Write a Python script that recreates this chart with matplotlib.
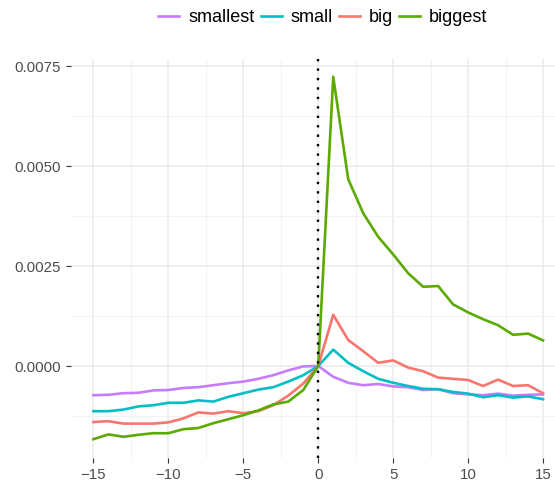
import numpy as np
import matplotlib.pyplot as plt
from matplotlib.lines import Line2D

days = np.arange(-15, 16)

smallest = [-0.00073, -0.00072, -0.00068, -0.00067, -0.00061, -0.00060, -0.00055, -0.00053,
            -0.00048, -0.00043, -0.00039, -0.00032, -0.00023, -0.00011, -0.00001, 0.0,
            -0.00027, -0.00042, -0.00048, -0.00045, -0.00051, -0.00053, -0.00060, -0.00058,
            -0.00068, -0.00071, -0.00073, -0.00069, -0.00074, -0.00072, -0.00071]
small = [-0.00113, -0.00113, -0.00109, -0.00101, -0.00098, -0.00092, -0.00092, -0.00086,
         -0.00089, -0.00077, -0.00068, -0.00059, -0.00053, -0.00039, -0.00023, 0.0,
         0.00041, 0.00008, -0.00013, -0.00032, -0.00042, -0.00050, -0.00057, -0.00058,
         -0.00065, -0.00069, -0.00078, -0.00073, -0.00079, -0.00076, -0.00083]
big = [-0.00140, -0.00138, -0.00144, -0.00144, -0.00144, -0.00141, -0.00131, -0.00116,
       -0.00119, -0.00113, -0.00118, -0.00113, -0.00098, -0.00074, -0.00044, 0.0,
       0.00128, 0.00065, 0.00037, 0.00008, 0.00014, -0.00004, -0.00013, -0.00029,
       -0.00032, -0.00035, -0.00050, -0.00034, -0.00050, -0.00048, -0.00068]
biggest = [-0.00183, -0.00171, -0.00177, -0.00172, -0.00168, -0.00168, -0.00158, -0.00155,
           -0.00143, -0.00133, -0.00123, -0.00111, -0.00096, -0.00089, -0.00060, 0.0,
           0.00723, 0.00467, 0.00382, 0.00323, 0.00279, 0.00232, 0.00198, 0.00200,
           0.00154, 0.00134, 0.00117, 0.00102, 0.00078, 0.00081, 0.00064]

series = ['smallest', 'small', 'big', 'biggest']
values = [smallest, small, big, biggest]
colors = ['#C77CFF', '#00BFC4', '#F8766D', '#5BAA00']

plt.rcParams['font.family'] = ['Liberation Sans', 'DejaVu Sans']

W, H = 555, 482
fig = plt.figure(figsize=(W / 100, H / 100), dpi=100)
left, right, top, bottom = 71, 565.5, 59, 458
ax = fig.add_axes([left / W, 1 - bottom / H, (right - left) / W, (bottom - top) / H])

for name, vals, col in zip(series, values, colors):
    ax.plot(days, vals, color=col, lw=1.9, label=name)

ax.axvline(0, color='black', lw=1.7, linestyle=(0, (1, 3)), zorder=5)

ax.set_xlim(-16.5, 16.5)
ax.set_ylim(-0.0023, 0.007675)
ax.set_xticks([-15, -10, -5, 0, 5, 10, 15])
ax.set_xticks(np.arange(-12.5, 16, 5), minor=True)
ax.set_yticks([0.0, 0.0025, 0.0050, 0.0075])
ax.set_yticks([-0.00125, 0.00125, 0.00375, 0.00625], minor=True)
ax.set_yticklabels(['0.0000', '0.0025', '0.0050', '0.0075'])

ax.grid(which='major', color='#EBEBEB', lw=1.1)
ax.grid(which='minor', color='#F2F2F2', lw=0.8)
ax.set_axisbelow(True)
for s in ax.spines.values():
    s.set_visible(False)
ax.tick_params(which='major', length=3.5, width=0.8, color='#333333',
               labelcolor='#4D4D4D', labelsize=10.8, pad=4)
ax.tick_params(which='minor', length=0)

handles = [Line2D([], [], color=c, lw=1.9) for c in colors]
fig.legend(handles, series, loc='center', bbox_to_anchor=(323 / W, 1 - 18 / H), ncol=4,
           frameon=False, fontsize=13, handlelength=1.15, handletextpad=0.5,
           columnspacing=0.35, borderpad=0)

fig.savefig('out.png', dpi=100)
